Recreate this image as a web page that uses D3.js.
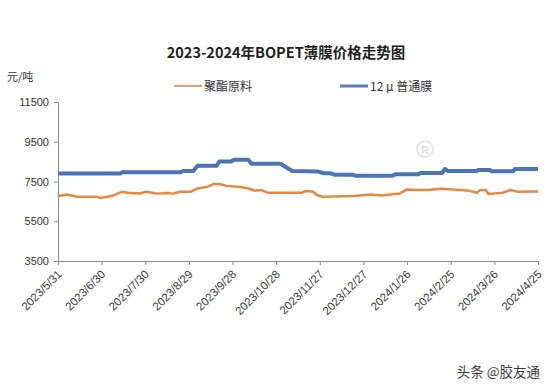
<!DOCTYPE html>
<html>
<head>
<meta charset="utf-8">
<script src="https://cdn.jsdelivr.net/npm/d3@7"></script>
<style>
  body { margin: 0; background: #fff; }
  svg { display: block; font-family: "Liberation Sans", Arial, "Noto Sans CJK SC", sans-serif; }
</style>
</head>
<body>
<div id="container"></div>
<script>
/**
 * DATA
 * */
const seriesNames = ["聚酯原料", "12 μ 普通膜"];

// 聚酯原料
const rawDates = ["2023-05-31","2023-06-06","2023-06-13","2023-06-27","2023-06-29","2023-07-04","2023-07-08",
  "2023-07-14","2023-07-18","2023-07-26","2023-07-31","2023-08-07","2023-08-14","2023-08-18","2023-08-23",
  "2023-08-30","2023-09-04","2023-09-10","2023-09-15","2023-09-19","2023-09-24","2023-10-03","2023-10-09",
  "2023-10-13","2023-10-18","2023-10-22","2023-11-15","2023-11-17","2023-11-22","2023-11-25","2023-11-29",
  "2023-12-20","2024-01-01","2024-01-09","2024-01-21","2024-01-26","2024-02-02","2024-02-09","2024-02-18",
  "2024-02-27","2024-03-09","2024-03-14","2024-03-16","2024-03-20","2024-03-22","2024-04-01","2024-04-06",
  "2024-04-11","2024-04-25"];
const rawValues = [6770,6850,6730,6730,6670,6730,6800,
  6980,6930,6900,6980,6890,6920,6890,6980,
  6980,7150,7220,7370,7370,7280,7220,7150,
  7040,7070,6940,6940,7020,7000,6820,6730,
  6770,6840,6800,6900,7100,7070,7070,7130,
  7100,7030,6930,7070,7070,6870,6940,7070,
  6990,7000];

// 12 μ 普通膜
const filmDates = ["2023-05-31","2023-07-13","2023-07-14","2023-08-23","2023-08-25","2023-09-01","2023-09-04",
  "2023-09-17","2023-09-19","2023-09-27","2023-09-29","2023-10-09","2023-10-11","2023-10-31","2023-11-08",
  "2023-11-26","2023-11-30","2023-12-04","2023-12-07","2023-12-19","2023-12-22","2024-01-16","2024-01-18",
  "2024-02-03","2024-02-04","2024-02-19","2024-02-21","2024-02-23","2024-03-14","2024-03-15","2024-03-23",
  "2024-03-24","2024-04-08","2024-04-09","2024-04-25"];
const filmValues = [7900,7900,7960,7960,8030,8030,8290,
  8290,8510,8510,8590,8590,8390,8390,8030,
  8000,7915,7915,7845,7845,7790,7790,7870,
  7870,7930,7930,8130,8030,8030,8080,8080,
  8015,8015,8130,8130];

const yTicks = [3500, 5500, 7500, 9500, 11500];
const xTickLabels = ["2023/5/31","2023/6/30","2023/7/30","2023/8/29","2023/9/28","2023/10/28",
  "2023/11/27","2023/12/27","2024/1/26","2024/2/25","2024/3/26","2024/4/25"];

/**
 * CONSTANTS
 * */
const width = 553, height = 389;
const margin = { left: 58, right: 15, top: 102, bottom: 128 };
const colors = ["#e8873f", "#4a74b4"];
const parse = d3.timeParse("%Y-%m-%d");
const parseTick = d3.timeParse("%Y/%m/%d");

const svg = d3.select("#container")
  .append("svg")
  .attr("width", width)
  .attr("height", height);

const x = d3.scaleTime()
  .domain([parseTick(xTickLabels[0]), parseTick(xTickLabels[xTickLabels.length - 1])])
  .range([margin.left, width - margin.right]);

const y = d3.scaleLinear()
  .domain([3500, 11500])
  .range([height - margin.bottom, margin.top]);

// title
svg.append("text")
  .attr("x", 286).attr("y", 58)
  .attr("text-anchor", "middle")
  .attr("font-size", 14.5)
  .attr("font-weight", "bold")
  .attr("fill", "#222")
  .style("font-family", "'Noto Sans CJK SC', sans-serif")
  .text("2023-2024年BOPET薄膜价格走势图");

// unit
svg.append("text")
  .attr("x", 7).attr("y", 81)
  .attr("font-size", 11)
  .attr("fill", "#333")
  .style("font-family", "'Noto Sans CJK SC', sans-serif")
  .text("元/吨");

// legend
const legendX = [174, 340];
const legend = svg.selectAll("g.legend")
  .data(seriesNames)
  .join("g")
  .attr("class", "legend")
  .attr("transform", (d, i) => `translate(${legendX[i]},86)`);
legend.append("line")
  .attr("x1", 0).attr("x2", 28)
  .attr("stroke", (d, i) => i === 0 ? "#e9a262" : "#5b7fb3")
  .attr("stroke-width", (d, i) => i === 0 ? 2 : 3);
legend.append("text")
  .attr("x", 30).attr("y", 4.5)
  .attr("font-size", 12)
  .attr("fill", "#333")
  .style("font-family", "'Noto Sans CJK SC', sans-serif")
  .text(d => d);

// y axis
const yAxis = svg.append("g")
  .attr("transform", `translate(${margin.left},0)`)
  .call(d3.axisLeft(y).tickValues(yTicks).tickSize(4).tickPadding(5).tickFormat(d3.format("d")));
yAxis.selectAll("path, line").attr("stroke", "#8c8c8c");
yAxis.selectAll("text").attr("font-size", 11).attr("fill", "#333")
  .style("font-family", "'Liberation Sans', Arial, sans-serif");

// x axis
const xAxis = svg.append("g")
  .attr("transform", `translate(0,${height - margin.bottom})`)
  .call(d3.axisBottom(x)
    .tickValues(xTickLabels.map(parseTick))
    .tickSize(4)
    .tickFormat((d, i) => xTickLabels[i]));
xAxis.select("path").attr("stroke", "#8c8c8c");
xAxis.selectAll("line").attr("stroke", "#8c8c8c");
xAxis.selectAll("text")
  .attr("font-size", 11.5)
  .attr("fill", "#3a3a3a")
  .style("font-family", "'Liberation Sans', Arial, sans-serif")
  .attr("text-anchor", "end")
  .attr("x", 0).attr("y", 0).attr("dy", 0)
  .attr("transform", "translate(4,14) rotate(-45)");

// faint registered mark watermark
svg.append("circle").attr("cx", 425).attr("cy", 149).attr("r", 8)
  .attr("fill", "none").attr("stroke", "#e6e6e6").attr("stroke-width", 2);
svg.append("text").attr("x", 425).attr("y", 153.5).attr("text-anchor", "middle")
  .attr("font-size", 11).attr("fill", "#e0e0e0").attr("font-weight", "bold").text("R");

// lines
const line = d3.line()
  .x(d => x(d.date))
  .y(d => y(d.value));

const series = [
  rawDates.map((d, i) => ({ date: parse(d), value: rawValues[i] })),
  filmDates.map((d, i) => ({ date: parse(d), value: filmValues[i] }))
];

svg.selectAll("path.series")
  .data(series)
  .join("path")
  .attr("class", "series")
  .attr("fill", "none")
  .attr("stroke", (d, i) => colors[i])
  .attr("stroke-width", (d, i) => i === 0 ? 2.5 : 4)
  .attr("stroke-linejoin", "round")
  .attr("d", line);

// source watermark
svg.append("text")
  .attr("x", 540).attr("y", 377)
  .attr("text-anchor", "end")
  .attr("font-size", 13.5)
  .attr("fill", "#3a3a3a")
  .style("font-family", "'Noto Sans CJK SC', sans-serif")
  .text("头条 @胶友通");
</script>
</body>
</html>
